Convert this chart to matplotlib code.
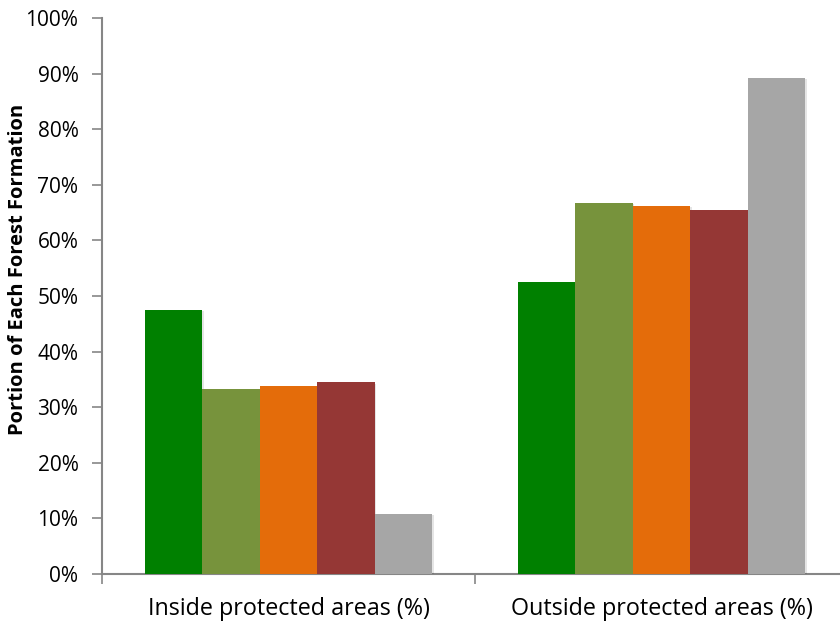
import matplotlib
matplotlib.use("Agg")
import matplotlib.pyplot as plt
import numpy as np
from matplotlib.ticker import FixedLocator, PercentFormatter
import matplotlib.patheffects as pe

categories = ["Inside protected areas (%)", "Outside protected areas (%)"]
series_colors = ["#008000", "#77933C", "#E46C0A", "#953735", "#A6A6A6"]
inside_values = [47.5, 33.2, 33.8, 34.5, 10.8]
outside_values = [52.5, 66.8, 66.2, 65.5, 89.2]
y_ticks = list(range(0, 101, 10))

plt.rcParams["font.family"] = ["Open Sans", "DejaVu Sans"]

W, H = 840, 622
fig = plt.figure(figsize=(W / 100, H / 100), dpi=100)
ax = fig.add_axes([102 / W, 48 / H, 746 / W, 556 / H])

axis_color = "#868686"
bar_w = 0.1544
x = np.arange(len(categories))
values = np.array([inside_values, outside_values])  # rows: categories
n = len(series_colors)
for i, col in enumerate(series_colors):
    offs = (i - (n - 1) / 2) * bar_w
    ax.bar(x + offs, values[:, i], width=bar_w, color=col, linewidth=0,
           zorder=3,
           path_effects=[pe.SimplePatchShadow(offset=(1.0, -1.0), alpha=0.10,
                                              shadow_rgbFace="#000000"),
                         pe.Normal()])

ax.set_xlim(-0.5, 1.5)
ax.set_ylim(0, 100)

ax.yaxis.set_major_locator(FixedLocator(y_ticks))
ax.yaxis.set_major_formatter(PercentFormatter(decimals=0))

ax.set_xticks(x)
ax.set_xticklabels(categories)
ax.xaxis.set_minor_locator(FixedLocator([-0.5, 0.5, 1.5]))
ax.tick_params(axis="x", which="major", length=0, pad=16.5, labelsize=16.8,
               labelcolor="#000000")
ax.tick_params(axis="x", which="minor", length=7, width=1.2, color=axis_color,
               direction="out")
ax.tick_params(axis="y", which="major", length=7, width=1.2, color=axis_color,
               direction="out", pad=10, labelsize=15, labelcolor="#000000")

for side in ["top", "right"]:
    ax.spines[side].set_visible(False)
for side in ["left", "bottom"]:
    ax.spines[side].set_color(axis_color)
    ax.spines[side].set_linewidth(1.5)

fig.text(18 / W, 1 - 269 / H, "Portion of Each Forest Formation",
         rotation=90, ha="center", va="center", fontsize=14.5, fontweight="bold")

fig.savefig("out.png", dpi=100)
